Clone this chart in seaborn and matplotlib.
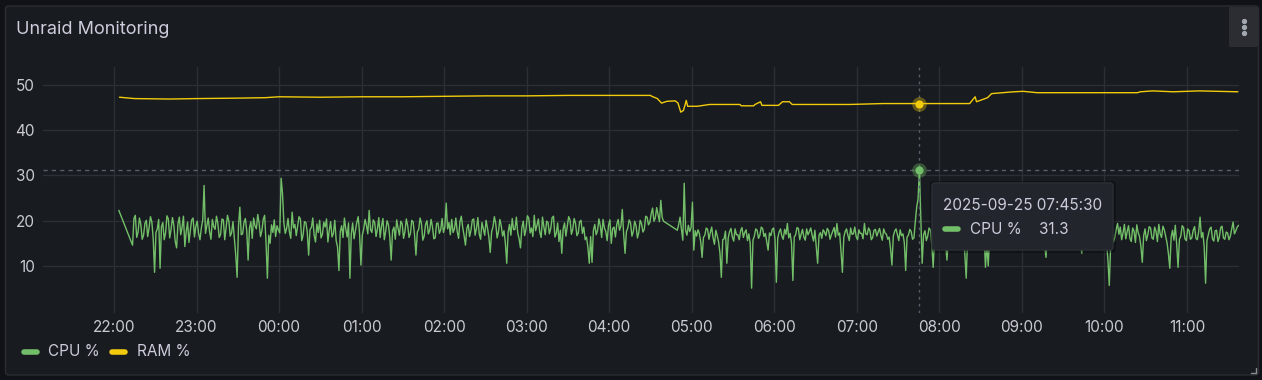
import numpy as np
import pandas as pd
import matplotlib
matplotlib.use("Agg")
import matplotlib.pyplot as plt
import matplotlib.dates as mdates
from matplotlib.transforms import IdentityTransform
from matplotlib.patches import FancyBboxPatch
from matplotlib.lines import Line2D
import seaborn as sns

# ---------------- data ----------------
title = "Unraid Monitoring"
series_names = ["CPU %", "RAM %"]
series_colors = ["#73BF69", "#F2CC0C"]

N = None
cpu_start = "2025-09-24 22:03:30"
cpu_step = "1min"
cpu_values = [
    22.3, N, N, N, N, N, N, N, N, N, 14.6, 20.5, 21.2, 16.3, 17.5, 20.6, 19.2, 15.9, 16.8, 19.4, 20.1, 16.5, 18.4, 20.9, 19.8, 16.1, 8.6, 17.4, 18.2, 20.3,
    9.5, 18.7, 19.6, 15.8, 17.3, 21.1, 20.4, 16.2, 18.1, 20.7, 19.0, 15.5, 14.0, 19.3, 20.8, 16.9, 18.5, 21.0, 14.3, 17.6, 19.7, 15.2, 17.9, 20.2, 20.6, 16.4, 18.8, 19.9, 17.2, 15.8,
    18.4, 20.1, 27.8, 17.2, 18.9, 20.6, 17.6, 15.9, 20.3, 18.7, 18.1, 21.0, 19.4, 16.3, 17.0, 20.4, 20.2, 15.8, 18.6, 21.2, 19.9, 16.6, 17.4, 19.8, 16.2, 12.5, 7.5, 18.8, 23.0, 16.9,
    17.1, 19.6, 20.5, 17.8, 11.3, 18.4, 19.8, 16.1, 20.6, 18.9, 18.2, 21.4, 19.5, 16.5, 17.8, 20.3, 21.2, 15.4, 7.3, 16.8, 15.0, 19.1, 17.4, 20.2, 16.5, 18.9, 18.0, 17.3, 29.4, 26.0,
    19.5, 17.2, 18.3, 20.5, 17.6, 16.1, 21.9, 18.4, 19.2, 16.7, 18.8, 20.9, 20.4, 15.6, 16.9, 19.8, 19.6, 17.5, 12.4, 18.1, 18.5, 20.6, 16.8, 15.3, 19.3, 17.4, 20.1, 16.2, 17.0, 19.7,
    18.6, 20.4, 15.3, 17.9, 19.8, 16.4, 17.2, 20.1, 15.6, 14.2, 9.0, 17.6, 18.9, 16.3, 20.6, 18.2, 16.4, 19.5, 7.3, 17.1, 19.5, 16.0, 17.8, 19.6, 20.9, 17.3, 10.2, 16.8, 18.1, 20.3,
    19.0, 17.1, 22.3, 18.0, 17.4, 20.2, 19.6, 16.5, 18.2, 20.7, 16.3, 18.9, 20.5, 15.8, 17.7, 20.0, 19.1, 16.4, 11.3, 17.8, 18.6, 15.9, 20.2, 18.3, 16.8, 19.9, 19.3, 16.1, 17.6, 20.4,
    18.9, 16.3, 17.2, 20.1, 19.7, 16.8, 12.4, 17.5, 18.1, 20.6, 19.4, 15.7, 16.6, 19.2, 20.0, 17.1, 17.9, 20.3, 18.7, 16.0, 16.2, 19.4, 19.5, 17.2, 18.0, 20.5, 17.4, 18.6, 23.9, 18.2,
    19.6, 16.9, 20.3, 17.4, 18.2, 20.6, 17.6, 16.1, 19.8, 21.0, 18.5, 16.7, 14.6, 18.3, 19.2, 16.5, 17.9, 20.2, 20.4, 16.8, 18.3, 20.7, 17.1, 15.9, 19.6, 18.2, 16.8, 20.1, 18.4, 16.4,
    13.0, 17.5, 18.7, 20.9, 19.4, 16.2, 17.6, 20.3, 18.9, 16.6, 17.8, 15.1, 10.6, 17.4, 19.2, 16.8, 20.5, 18.0, 18.1, 20.8, 17.3, 16.0, 14.0, 18.5, 19.9, 16.7, 18.2, 21.1, 20.6, 17.3,
    18.4, 16.5, 21.2, 17.8, 19.0, 20.4, 17.5, 16.3, 20.8, 18.6, 16.9, 19.9, 19.6, 17.1, 18.3, 20.7, 21.0, 16.4, 17.2, 19.5, 15.4, 17.9, 12.8, 18.2, 19.5, 16.6, 18.7, 20.9, 20.2, 17.0,
    18.1, 20.5, 19.4, 16.7, 17.3, 19.8, 20.1, 17.2, 18.6, 15.8, 16.4, 14.1, 10.6, 16.5, 10.8, 17.9, 19.2, 16.9, 17.8, 20.4, 18.9, 16.3, 20.3, 18.4, 17.6, 15.6, 19.0, 20.2, 15.0, 18.3,
    18.6, 16.4, 19.2, 20.3, 17.9, 18.8, 22.5, 17.0, 12.8, 17.6, 18.4, 20.2, 19.5, 16.6, 17.6, 19.9, 18.9, 16.2, 17.4, 20.1, 19.3, 17.5, 18.1, 21.0, 20.8, 19.1, 19.6, 21.5, 22.8, 19.9,
    20.6, 22.9, 21.4, 19.8, 24.5, 20.7, 19.9, N, N, N, N, N, N, N, N, N, 17.9, 19.2, 20.8, 18.1, 15.7, 28.3, 17.9, 16.8, 19.0, 17.6, 18.5, 24.1, 13.5, 17.8,
    16.6, 18.0, 17.2, 15.4, 11.9, 16.3, 16.8, 18.4, 18.1, 15.9, 17.4, 18.6, 16.2, 14.8, 17.9, 16.7, 15.3, 12.9, 7.5, 15.8, 16.0, 17.7, 10.6, 16.2, 17.6, 18.3, 16.4, 15.5, 18.2, 16.9,
    16.9, 15.8, 17.8, 18.5, 16.3, 17.4, 18.0, 15.6, 17.1, 14.9, 5.1, 15.7, 16.6, 18.2, 17.9, 16.1, 16.8, 18.6, 18.3, 16.5, 17.2, 15.4, 13.5, 17.3, 16.7, 18.1, 18.4, 15.9, 6.4, 16.2,
    17.5, 18.2, 16.6, 15.9, 18.1, 17.0, 19.4, 16.2, 17.2, 15.1, 6.8, 16.4, 16.9, 18.5, 18.3, 15.8, 17.0, 18.1, 16.4, 15.7, 18.2, 16.9, 17.6, 18.4, 16.8, 15.5, 17.9, 14.2, 10.6, 16.8,
    17.4, 16.1, 18.0, 17.5, 16.7, 18.3, 17.8, 15.9, 16.9, 17.7, 18.5, 16.4, 19.4, 16.8, 17.3, 13.2, 8.6, 16.3, 17.6, 18.2, 16.8, 15.6, 18.4, 17.0, 17.1, 18.6, 16.5, 15.8, 18.0, 17.2,
    17.2, 16.0, 19.4, 17.1, 16.9, 18.4, 17.8, 15.8, 16.3, 17.9, 18.1, 16.6, 17.5, 18.3, 16.8, 15.7, 18.2, 17.3, 17.0, 15.9, 16.4, 13.8, 10.2, 16.6, 17.7, 18.2, 16.9, 15.6, 18.0, 16.7,
    17.1, 15.2, 9.0, 16.4, 16.8, 18.1, 17.6, 15.9, 16.2, 19.8, 23.0, 24.8, 31.3, 20.5, 10.6, 16.9, 17.8, 15.6, 16.6, 18.4, 18.0, 14.6, 9.7, 16.5, 17.3, 18.1, 16.4, 15.3, 17.9, 16.8,
    17.4, 15.0, 11.3, 16.2, 16.9, 18.3, 17.8, 15.7, 16.5, 18.1, 17.2, 16.0, 18.0, 17.4, 16.7, 12.6, 7.3, 16.1, 17.5, 18.4, 16.8, 15.9, 17.9, 16.6, 16.4, 18.2, 17.1, 15.8, 18.2, 17.0,
    9.7, 14.9, 10.0, 16.3, 17.3, 18.5, 16.8, 15.6, 17.9, 16.4, 17.1, 18.3, 16.4, 15.9, 18.2, 17.0, 17.6, 18.7, 16.9, 15.5, 17.8, 16.6, 16.5, 18.4, 17.4, 16.1, 18.1, 17.2, 16.8, 15.7,
    17.5, 18.3, 16.9, 15.8, 18.0, 16.7, 17.2, 18.5, 16.6, 15.4, 17.8, 16.2, 17.1, 14.5, 11.9, 16.6, 17.4, 18.2, 16.8, 15.9, 18.1, 16.9, 17.3, 18.4, 16.7, 15.6, 17.9, 16.5, 17.0, 18.1,
    16.8, 15.5, 17.6, 18.3, 17.2, 16.0, 18.0, 17.1, 16.5, 15.1, 12.8, 16.4, 17.4, 18.2, 16.9, 15.7, 17.8, 16.4, 17.1, 18.5, 16.6, 15.8, 17.9, 16.9, 17.3, 18.0, 16.7, 14.8, 15.2, 11.4,
    5.7, 14.6, 17.8, 15.3, 16.2, 18.1, 19.4, 17.0, 18.6, 15.8, 17.3, 19.2, 16.0, 17.6, 18.9, 16.1, 15.4, 18.4, 17.7, 15.2, 19.1, 17.4, 16.5, 14.3, 10.8, 16.7, 18.2, 15.6, 16.9, 18.7,
    18.4, 16.2, 15.9, 18.6, 17.6, 15.4, 19.2, 17.1, 16.3, 18.8, 18.0, 16.5, 15.1, 12.7, 9.5, 16.4, 17.9, 15.7, 19.0, 14.8, 9.7, 15.9, 16.6, 18.9, 18.5, 16.0, 15.6, 18.2, 17.8, 15.9,
    16.2, 17.9, 18.7, 16.1, 15.8, 17.6, 20.8, 16.3, 17.4, 14.2, 6.2, 15.6, 16.9, 18.2, 18.6, 16.0, 15.5, 17.8, 17.9, 15.4, 16.4, 18.5, 18.8, 16.2, 15.9, 17.5, 17.3, 15.8, 16.6, 18.1,
    19.7, 17.1, 17.8, 18.6, 19.0,
]

ram_times = [
    "22:04", "22:15", "22:40", "23:00", "23:30", "23:50", "00:00", "00:30", "01:00",
    "01:30", "02:00", "02:30", "03:00", "03:30", "04:00", "04:30", "04:31", "04:35",
    "04:38", "04:42", "04:48", "04:50", "04:52", "04:54", "04:56", "04:57", "05:04",
    "05:13", "05:35", "05:36", "05:45", "05:46", "05:50", "05:51", "06:03", "06:06",
    "06:11", "06:13", "06:55", "07:19", "08:22", "08:26", "08:27", "08:35", "08:38",
    "08:54", "09:01", "09:11", "10:24", "10:26", "10:35", "10:50", "11:09", "11:37",
]
ram_values = [
    47.3, 47.0, 46.9, 47.0, 47.1, 47.2, 47.4, 47.3, 47.4,
    47.4, 47.5, 47.6, 47.6, 47.7, 47.7, 47.7, 47.5, 47.0,
    46.0, 46.4, 46.5, 46.0, 44.0, 44.4, 46.6, 45.3, 45.3,
    45.7, 45.7, 45.4, 45.4, 45.7, 46.3, 45.5, 45.5, 46.3,
    46.3, 45.7, 45.7, 45.9, 45.9, 47.4, 46.3, 47.2, 48.1,
    48.5, 48.6, 48.3, 48.3, 48.5, 48.7, 48.5, 48.7, 48.5,
]

hover_time = "2025-09-25 07:45:30"
hover_cpu = 31.3
hover_ram = 45.9
y_ticks = [10, 20, 30, 40, 50]

# ---------------- frames ----------------
cpu_idx = pd.date_range(cpu_start, periods=len(cpu_values), freq=cpu_step)
cpu_df = pd.DataFrame({"time": cpu_idx, "value": pd.to_numeric(pd.Series(cpu_values), errors="coerce"),
                       "series": series_names[0]})
ram_dt = [pd.Timestamp(("2025-09-24 " if int(t[:2]) >= 20 else "2025-09-25 ") + t) for t in ram_times]
ram_df = pd.DataFrame({"time": ram_dt, "value": ram_values, "series": series_names[1]})
df = pd.concat([cpu_df, ram_df], ignore_index=True).dropna()

# ---------------- style ----------------
W, H = 1262, 380
BG_OUT = "#111217"
BG_PANEL = "#181b1f"
TXT = "#ccccdc"
GRID = "#2c2f35"

sns.set_theme(style="dark")
plt.rcParams["font.family"] = ["Inter", "DejaVu Sans"]

fig = plt.figure(figsize=(W / 100, H / 100), dpi=100, facecolor=BG_OUT)
ID = IdentityTransform()

def py(y_top):
    return H - y_top

# panel
panel = FancyBboxPatch((5.5, py(375)), 1253, 369, boxstyle="round,pad=0,rounding_size=3",
                       transform=ID, facecolor=BG_PANEL, edgecolor="#2a2d33", linewidth=1, zorder=-10)
fig.add_artist(panel)

ax_l, ax_r, ax_t, ax_b = 43, 1239, 67, 313
ax = fig.add_axes([ax_l / W, 1 - ax_b / H, (ax_r - ax_l) / W, (ax_b - ax_t) / H])
ax.set_facecolor(BG_PANEL)
ax.patch.set_alpha(0)

sns.lineplot(data=df, x="time", y="value", hue="series", hue_order=series_names,
             palette=series_colors, estimator=None, linewidth=1.0, legend=False, ax=ax, zorder=3)

x0 = pd.Timestamp("2025-09-24 21:08:24")
x1 = pd.Timestamp("2025-09-25 11:37:48")
ax.set_xlim(x0, x1)
ax.set_ylim(-0.39, 53.98)
ax.set_yticks(y_ticks)
ax.xaxis.set_major_locator(mdates.HourLocator())
ax.xaxis.set_major_formatter(mdates.DateFormatter("%H:%M"))
ax.set_xlabel("")
ax.set_ylabel("")
for s in ax.spines.values():
    s.set_visible(False)
ax.grid(True, color=GRID, linewidth=1, zorder=0)
ax.tick_params(axis="both", length=0, labelsize=11, colors="#c8cad2")
ax.tick_params(axis="y", pad=6)
ax.tick_params(axis="x", pad=5)

# crosshair + hover markers
ht = pd.Timestamp(hover_time)
ax.axvline(ht, color="#56606c", linewidth=1, linestyle=(0, (2, 3)), zorder=4)
ax.axhline(hover_cpu, color="#56606c", linewidth=1, linestyle=(0, (3, 3)), zorder=4)
ax.scatter([ht], [hover_ram], s=110, color=series_colors[1], alpha=0.35, linewidths=0, zorder=5)
ax.scatter([ht], [hover_ram], s=35, color=series_colors[1], linewidths=0, zorder=6)
ax.scatter([ht], [hover_cpu], s=110, color=series_colors[0], alpha=0.35, linewidths=0, zorder=5)
ax.scatter([ht], [hover_cpu], s=35, color=series_colors[0], linewidths=0, zorder=6)

# title
fig.text(16, py(29), title, transform=ID, color=TXT, fontsize=13, va="center", ha="left")

# menu button
menu = FancyBboxPatch((1229, py(47)), 29, 40, boxstyle="round,pad=0,rounding_size=2",
                      transform=ID, facecolor="#2b2d33", edgecolor="none", zorder=5)
fig.add_artist(menu)
for yy in (21, 27, 33):
    fig.add_artist(Line2D([1244], [py(yy)], transform=ID, marker="o", markersize=2.8,
                          color="#a3a7b0", linestyle="none", zorder=6))

# resize corner
fig.add_artist(Line2D([1251, 1256, 1256], [py(373), py(373), py(368)], transform=ID,
                      color="#8a8d94", linewidth=1, zorder=6))

# legend
leg_items = [(22, 48, series_names[0], series_colors[0]), (110, 137, series_names[1], series_colors[1])]
for lx, tx, name, col in leg_items:
    fig.add_artist(Line2D([lx + 2, lx + 15], [py(352), py(352)], transform=ID, color=col,
                          linewidth=4, solid_capstyle="round", zorder=6))
    fig.text(tx, py(352), name, transform=ID, color=TXT, fontsize=11, va="center", ha="left")

# tooltip
shadow = FancyBboxPatch((930, py(253)), 186, 72, boxstyle="round,pad=0,rounding_size=4",
                        transform=ID, facecolor="#000000", alpha=0.25, edgecolor="none", zorder=8)
fig.add_artist(shadow)
tip = FancyBboxPatch((932, py(250)), 181, 67, boxstyle="round,pad=0,rounding_size=3",
                     transform=ID, facecolor="#22252b", edgecolor="#2c2f36", linewidth=1, zorder=9)
fig.add_artist(tip)
fig.text(943, py(205), pd.Timestamp(hover_time).strftime("%Y-%m-%d %H:%M:%S"), transform=ID,
         color=TXT, fontsize=11, va="center", ha="left", zorder=10)
fig.add_artist(Line2D([945, 958], [py(229), py(229)], transform=ID, color=series_colors[0],
                      linewidth=4, solid_capstyle="round", zorder=10))
fig.text(970, py(229), series_names[0], transform=ID, color=TXT, fontsize=11, va="center",
         ha="left", zorder=10)
fig.text(1039, py(229), f"{hover_cpu}", transform=ID, color=TXT, fontsize=11, va="center",
         ha="left", zorder=10)

fig.savefig("out.png", dpi=100, facecolor=BG_OUT)
